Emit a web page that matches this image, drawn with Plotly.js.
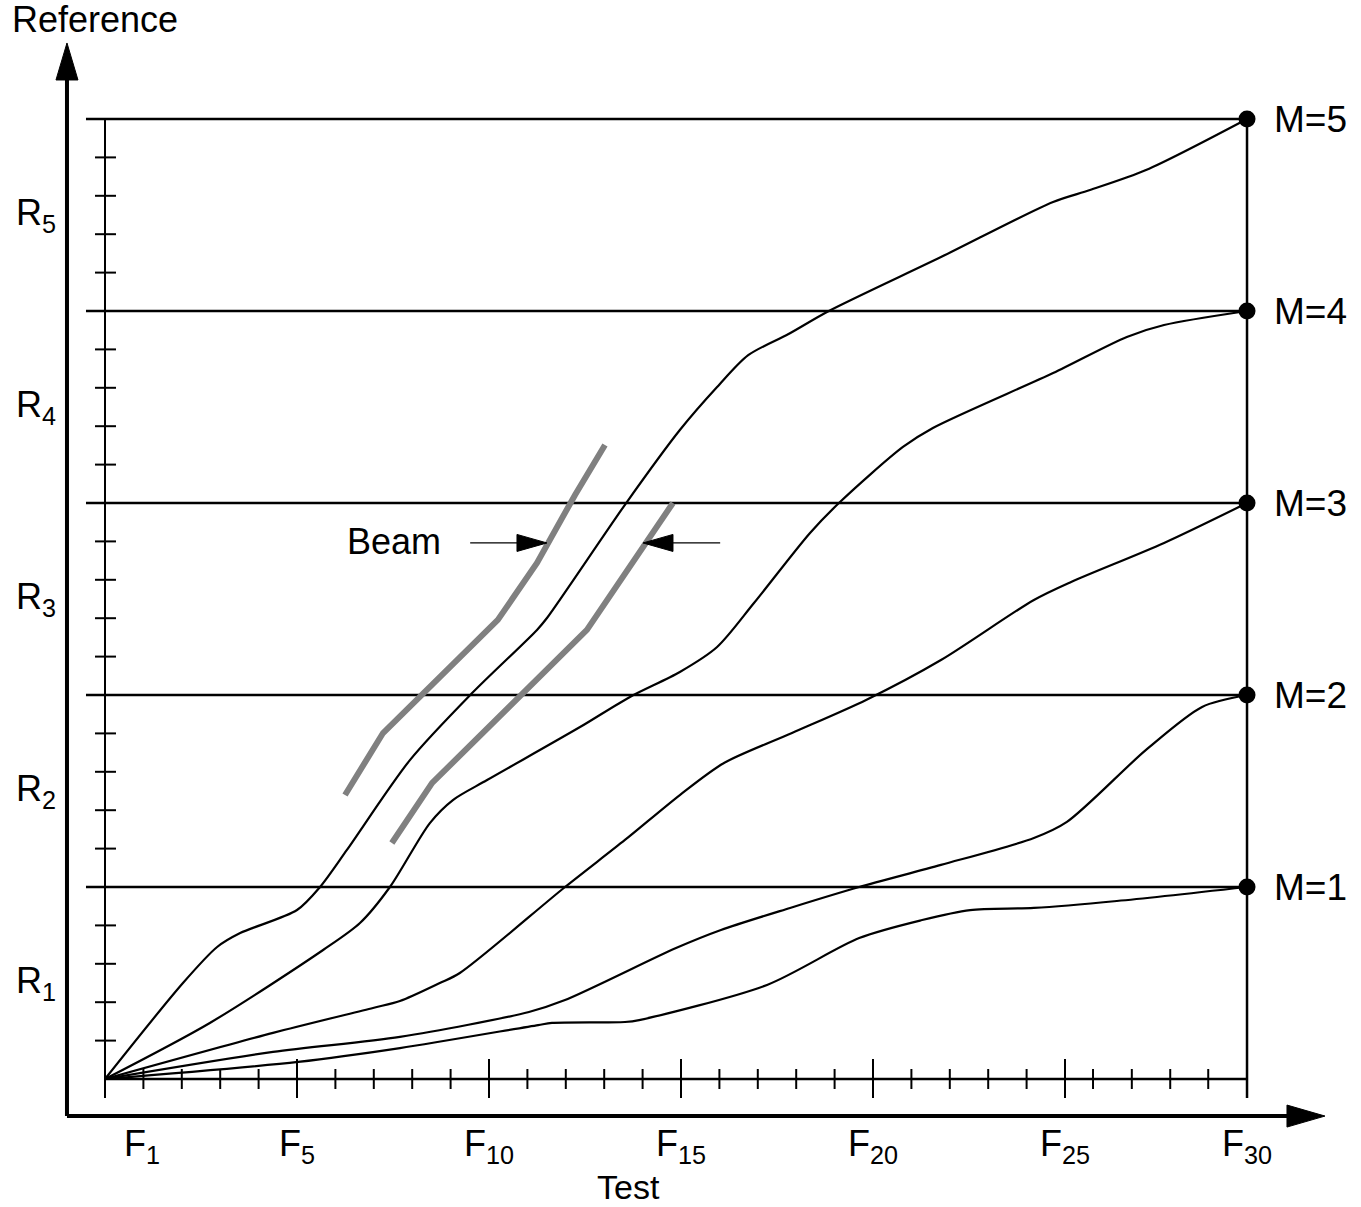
<!DOCTYPE html>
<html>
<head>
<meta charset="utf-8">
<script src="https://cdn.plot.ly/plotly-3.0.1.min.js"></script>
<style>html,body{margin:0;padding:0;background:#fff;}#chart{width:1361px;height:1207px;}</style>
</head>
<body>
<div id="chart"></div>
<script>
// ---- data (x in F-step units, y in R-band units) ----
const xEnd = 29.74;
const levels = [1, 2, 3, 4, 5];
const levelLabels = ["M=1", "M=2", "M=3", "M=4", "M=5"];
const bandLabels = ["R<sub>1</sub>", "R<sub>2</sub>", "R<sub>3</sub>", "R<sub>4</sub>", "R<sub>5</sub>"];
const fLabels = ["F<sub>1</sub>", "F<sub>5</sub>", "F<sub>10</sub>", "F<sub>15</sub>", "F<sub>20</sub>", "F<sub>25</sub>", "F<sub>30</sub>"];
const fLabelPos = [0.96, 5, 10, 15, 20, 25, 29.74];
const xMajorTicks = [0, 5, 10, 15, 20, 25, 29.74];
const xMinorTicks = [1, 2, 3, 4, 6, 7, 8, 9, 11, 12, 13, 14, 16, 17, 18, 19, 21, 22, 23, 24, 25.73, 26.74, 27.74, 28.73];
const yMinorTicks = [0.2, 0.4, 0.6, 0.8, 1.2, 1.4, 1.6, 1.8, 2.2, 2.4, 2.6, 2.8, 3.2, 3.4, 3.6, 3.8, 4.2, 4.4, 4.6, 4.8];

const m5x = [0, 2.03, 2.92, 3.52, 5.00, 5.60, 6.30, 7.94, 9.56, 11.25, 11.51, 13.59, 14.97, 15.94, 16.75, 17.80, 18.85, 21.77, 24.69, 25.65, 27.11, 29.74];
const m5y = [0, 0.50, 0.6875, 0.760, 0.880, 1.000, 1.193, 1.661, 2.010, 2.339, 2.401, 3.005, 3.380, 3.604, 3.770, 3.880, 4.000, 4.281, 4.568, 4.630, 4.734, 5.000];
const m4x = [0, 2.73, 5.68, 6.64, 7.42, 8.46, 9.06, 9.95, 12.37, 13.67, 14.97, 15.94, 16.90, 18.36, 19.14, 20.78, 21.56, 24.69, 26.61, 27.58, 29.74];
const m4y = [0, 0.292, 0.672, 0.8125, 1.000, 1.333, 1.453, 1.557, 1.833, 1.990, 2.120, 2.250, 2.479, 2.844, 3.005, 3.292, 3.391, 3.677, 3.865, 3.927, 4.000];
const m3x = [0, 4.375, 6.98, 7.68, 8.72, 9.24, 11.98, 13.54, 14.97, 16.12, 17.89, 19.82, 21.77, 24.19, 25.16, 27.58, 29.74];
const m3y = [0, 0.240, 0.370, 0.406, 0.500, 0.552, 1.000, 1.245, 1.479, 1.646, 1.802, 1.974, 2.182, 2.495, 2.589, 2.792, 3.000];
const m2x = [0, 4.375, 7.68, 11.04, 11.98, 14.87, 16.04, 17.84, 19.64, 21.77, 24.19, 25.05, 27.11, 28.57, 29.74];
const m2y = [0, 0.141, 0.219, 0.349, 0.411, 0.682, 0.776, 0.891, 1.000, 1.115, 1.255, 1.339, 1.714, 1.938, 2.000];
const m1x = [0, 5.03, 7.68, 11.28, 11.64, 13.54, 13.91, 17.24, 19.64, 21.28, 22.53, 24.19, 26.35, 29.74];
const m1y = [0, 0.089, 0.161, 0.281, 0.292, 0.297, 0.307, 0.490, 0.734, 0.828, 0.880, 0.891, 0.927, 1.000];

const beamLx = [6.25, 7.24, 10.23, 11.25, 12.24, 13.02];
const beamLy = [1.479, 1.802, 2.391, 2.688, 3.042, 3.302];
const beamRx = [7.47, 8.52, 12.55, 14.79];
const beamRy = [1.229, 1.542, 2.339, 3.000];

// ---- build ----
const FONT = "Liberation Sans, Arial, Helvetica, sans-serif";
const traces = [];
const black = "#000";

function segTrace(xs, ys, w, col) {
  return {x: xs, y: ys, mode: "lines", type: "scatter", hoverinfo: "skip",
          line: {color: col || black, width: w}, showlegend: false};
}

// horizontal reference lines
{
  const xs = [], ys = [];
  levels.forEach(v => { xs.push(-0.495, xEnd, null); ys.push(v, v, null); });
  traces.push(segTrace(xs, ys, 2.5));
}
// inner axes
traces.push(segTrace([0, 0], [0, 5], 2));
traces.push(segTrace([0, xEnd], [0, 0], 2.5));
traces.push(segTrace([xEnd, xEnd], [-0.099, 5], 2.5));
// x ticks
{
  const xs = [], ys = [];
  xMinorTicks.forEach(v => { xs.push(v, v, null); ys.push(0.052, -0.052, null); });
  xMajorTicks.forEach(v => { xs.push(v, v, null); ys.push(0.104, -0.099, null); });
  traces.push(segTrace(xs, ys, 2));
}
// y ticks
{
  const xs = [], ys = [];
  yMinorTicks.forEach(v => { xs.push(-0.26, 0.286, null); ys.push(v, v, null); });
  traces.push(segTrace(xs, ys, 2));
}
// beams
traces.push({x: beamLx, y: beamLy, mode: "lines", type: "scatter", hoverinfo: "skip",
             line: {color: "#808080", width: 6}});
traces.push({x: beamRx, y: beamRy, mode: "lines", type: "scatter", hoverinfo: "skip",
             line: {color: "#808080", width: 6}});
// curves
[[m1x, m1y], [m2x, m2y], [m3x, m3y], [m4x, m4y], [m5x, m5y]].forEach(c => {
  traces.push({x: c[0], y: c[1], mode: "lines", type: "scatter", hoverinfo: "skip",
               line: {color: black, width: 2.2, shape: "spline", smoothing: 0.8}});
});
// end dots
traces.push({x: levels.map(() => xEnd), y: levels, mode: "markers", type: "scatter",
             hoverinfo: "skip", marker: {color: black, size: 17}});

const annotations = [];
fLabels.forEach((t, i) => annotations.push({x: fLabelPos[i], y: -0.35, text: t, showarrow: false,
  xanchor: "center", yanchor: "middle", font: {family: FONT, size: 36, color: black}}));
bandLabels.forEach((t, i) => annotations.push({x: -1.80, y: levels[i] - 0.5, text: t, showarrow: false,
  xanchor: "center", yanchor: "middle", font: {family: FONT, size: 36, color: black}}));
levelLabels.forEach((t, i) => annotations.push({x: 30.39, y: levels[i], text: t, showarrow: false,
  xanchor: "left", yanchor: "middle", font: {family: FONT, size: 37, color: black}}));
annotations.push({x: -0.26, y: 5.52, text: "Reference", showarrow: false, xanchor: "center", yanchor: "middle",
  font: {family: FONT, size: 36, color: black}});
annotations.push({x: 13.62, y: -0.565, text: "Test", showarrow: false, xanchor: "center", yanchor: "middle",
  font: {family: FONT, size: 34, color: black}});
annotations.push({x: 7.53, y: 2.80, text: "Beam", showarrow: false, xanchor: "center", yanchor: "middle",
  font: {family: FONT, size: 36, color: black}});

const shapes = [];
// outer axes
shapes.push({type: "line", x0: -0.99, x1: -0.99, y0: -0.193, y1: 5.25, line: {color: black, width: 4}});
shapes.push({type: "line", x0: -0.99, x1: 31.0, y0: -0.193, y1: -0.193, line: {color: black, width: 4}});
function head(xa, ya, path) {
  return {type: "path", xref: "x", yref: "y", xsizemode: "pixel", ysizemode: "pixel",
          xanchor: xa, yanchor: ya, path: path, fillcolor: black, line: {color: black, width: 1}};
}
shapes.push(head(-0.99, 5.396, "M0,0 L-11,-37 L11,-37 Z"));
shapes.push(head(31.77, -0.193, "M0,0 L-38,11 L-38,-11 Z"));
// beam arrows
shapes.push({type: "line", x0: 9.51, x1: 10.8, y0: 2.792, y1: 2.792, line: {color: black, width: 1.2}});
shapes.push(head(11.51, 2.792, "M0,0 L-30,8.5 L-30,-8.5 Z"));
shapes.push({type: "line", x0: 14.6, x1: 16.02, y0: 2.792, y1: 2.792, line: {color: black, width: 1.2}});
shapes.push(head(14.01, 2.792, "M0,0 L30,8.5 L30,-8.5 Z"));

const layout = {
  width: 1361, height: 1207,
  margin: {l: 0, r: 0, t: 0, b: 0, pad: 0},
  paper_bgcolor: "#fff", plot_bgcolor: "#fff",
  showlegend: false,
  xaxis: {range: [-105 / 38.4, (1361 - 105) / 38.4], visible: false, fixedrange: true},
  yaxis: {range: [-(1207 - 1079) / 192, 1079 / 192], visible: false, fixedrange: true},
  annotations: annotations,
  shapes: shapes
};
Plotly.newPlot("chart", traces, layout, {staticPlot: true, displayModeBar: false});
</script>
</body>
</html>
